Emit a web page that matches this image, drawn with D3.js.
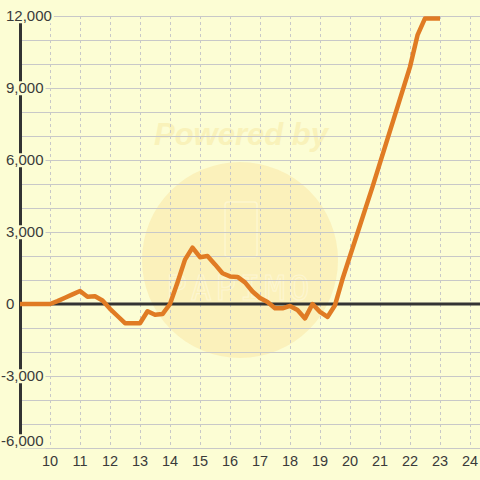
<!DOCTYPE html>
<html><head><meta charset="utf-8">
<script src="https://cdn.jsdelivr.net/npm/d3@7/dist/d3.min.js"></script>
<style>html,body{margin:0;padding:0;background:#fcfdd4;}svg{display:block;}</style>
</head><body><div id="chart"></div>
<script>
const xValues = [9,9.25,9.5,9.75,10,10.25,10.5,10.75,11,11.25,11.5,11.75,12,12.25,12.5,12.75,13,13.25,13.5,13.75,14,14.25,14.5,14.75,15,15.25,15.5,15.75,16,16.25,16.5,16.75,17,17.25,17.5,17.75,18,18.25,18.5,18.75,19,19.25,19.5,19.75,20,20.25,20.5,20.75,21,21.25,21.5,21.75,22,22.25,22.5,22.75,23];
const yValues = [0,0,0,0,0,120,260,400,540,300,320,150,-200,-500,-800,-800,-800,-300,-450,-420,0,900,1850,2350,1950,2000,1650,1280,1150,1130,900,520,250,80,-180,-180,-80,-250,-600,0,-330,-540,-50,1040,2000,2960,3920,4880,5880,6880,7880,8880,9880,11200,11900,11900,11900];
const xTicks = [10,11,12,13,14,15,16,17,18,19,20,21,22,23,24];
const yGrid = [-6000,-5000,-4000,-3000,-2000,-1000,0,1000,2000,3000,4000,5000,6000,7000,8000,9000,10000,11000,12000];
const yLabels = [-6000,-3000,0,3000,6000,9000,12000];

const W = 480, H = 480, BG = "#fcfdd4";
const svg = d3.select("#chart").append("svg").attr("width", W).attr("height", H);
svg.append("rect").attr("width", W).attr("height", H).attr("fill", BG);

const x = d3.scaleLinear().domain([9, 24 + 1/3]).range([20, 480]);
const y = d3.scaleLinear().domain([-6000, 12000]).range([448, 16]);

// watermark
const wm = svg.append("g");
wm.append("circle").attr("cx", 240).attr("cy", 260).attr("r", 98).attr("fill", "#fbf0b8").attr("opacity", 0.9);
wm.append("text").attr("x", 241).attr("y", 145).attr("text-anchor", "middle")
  .attr("font-family", "Liberation Sans, Arial, sans-serif").attr("font-weight", "bold").attr("font-style", "italic")
  .attr("font-size", 31).attr("fill", "#f9f2ba").text("Powered by");
wm.append("rect").attr("x", 225).attr("y", 202).attr("width", 32).attr("height", 55).attr("rx", 3)
  .attr("fill", "none").attr("stroke", "#fdf6d0").attr("stroke-width", 1.5);
wm.append("text").attr("x", 240).attr("y", 300).attr("text-anchor", "middle")
  .attr("font-family", "DejaVu Sans Mono, monospace").attr("font-size", 34).attr("letter-spacing", 4)
  .attr("fill", "none").attr("stroke", "#fdf6d0").attr("stroke-width", 1.2).text("PAPIMO");

// horizontal grid
svg.append("g").selectAll("line").data(yGrid.filter(d => d !== 0)).join("line")
  .attr("x1", 20).attr("x2", W).attr("y1", d => y(d)).attr("y2", d => y(d))
  .attr("stroke", "#c8c8c8").attr("stroke-width", 1).attr("shape-rendering", "crispEdges");

// vertical dashed grid
svg.append("g").selectAll("line").data(xTicks).join("line")
  .attr("x1", d => Math.round(x(d)) + 0.5).attr("x2", d => Math.round(x(d)) + 0.5)
  .attr("y1", y(12000)).attr("y2", y(-6000))
  .attr("stroke", "#c8c8c8").attr("stroke-width", 1).attr("stroke-dasharray", "3,3");

// y axis line
svg.append("line").attr("x1", 20.5).attr("x2", 20.5).attr("y1", y(12000)).attr("y2", y(-6000))
  .attr("stroke", "#333").attr("stroke-width", 3);
// zero line
svg.append("line").attr("x1", 19).attr("x2", W).attr("y1", y(0)).attr("y2", y(0))
  .attr("stroke", "#333").attr("stroke-width", 3);

// y labels with background box
const fmt = d => d3.format(",")(d).replace("\u2212", "-");
const yl = svg.append("g").attr("font-family", "Liberation Sans, Arial, sans-serif").attr("font-size", 15).attr("fill", "#3a3a3a");
yLabels.forEach(d => {
  const g = yl.append("g");
  const t = g.append("text").attr("x", d < 0 ? 1 : 6).attr("y", Math.min(y(d), 441)).attr("dy", "0.35em").text(fmt(d));
  const bb = t.node().getBBox();
  g.insert("rect", "text").attr("x", bb.x - 1).attr("y", bb.y + 2).attr("width", bb.width + 3).attr("height", bb.height - 3).attr("fill", BG);
});

// x labels
svg.append("g").attr("font-family", "Liberation Sans, Arial, sans-serif").attr("font-size", 14.5).attr("fill", "#3a3a3a")
  .selectAll("text").data(xTicks).join("text")
  .attr("x", d => x(d)).attr("y", 461).attr("dy", "0.35em").attr("text-anchor", "middle").text(d => d);

// data line
const pts = xValues.map((v, i) => [v, yValues[i]]);
svg.append("path").datum(pts)
  .attr("d", d3.line().x(d => x(d[0])).y(d => y(d[1])))
  .attr("fill", "none").attr("stroke", "#e07b24").attr("stroke-width", 4.5)
  .attr("stroke-linejoin", "round").attr("stroke-linecap", "butt");
</script></body></html>
